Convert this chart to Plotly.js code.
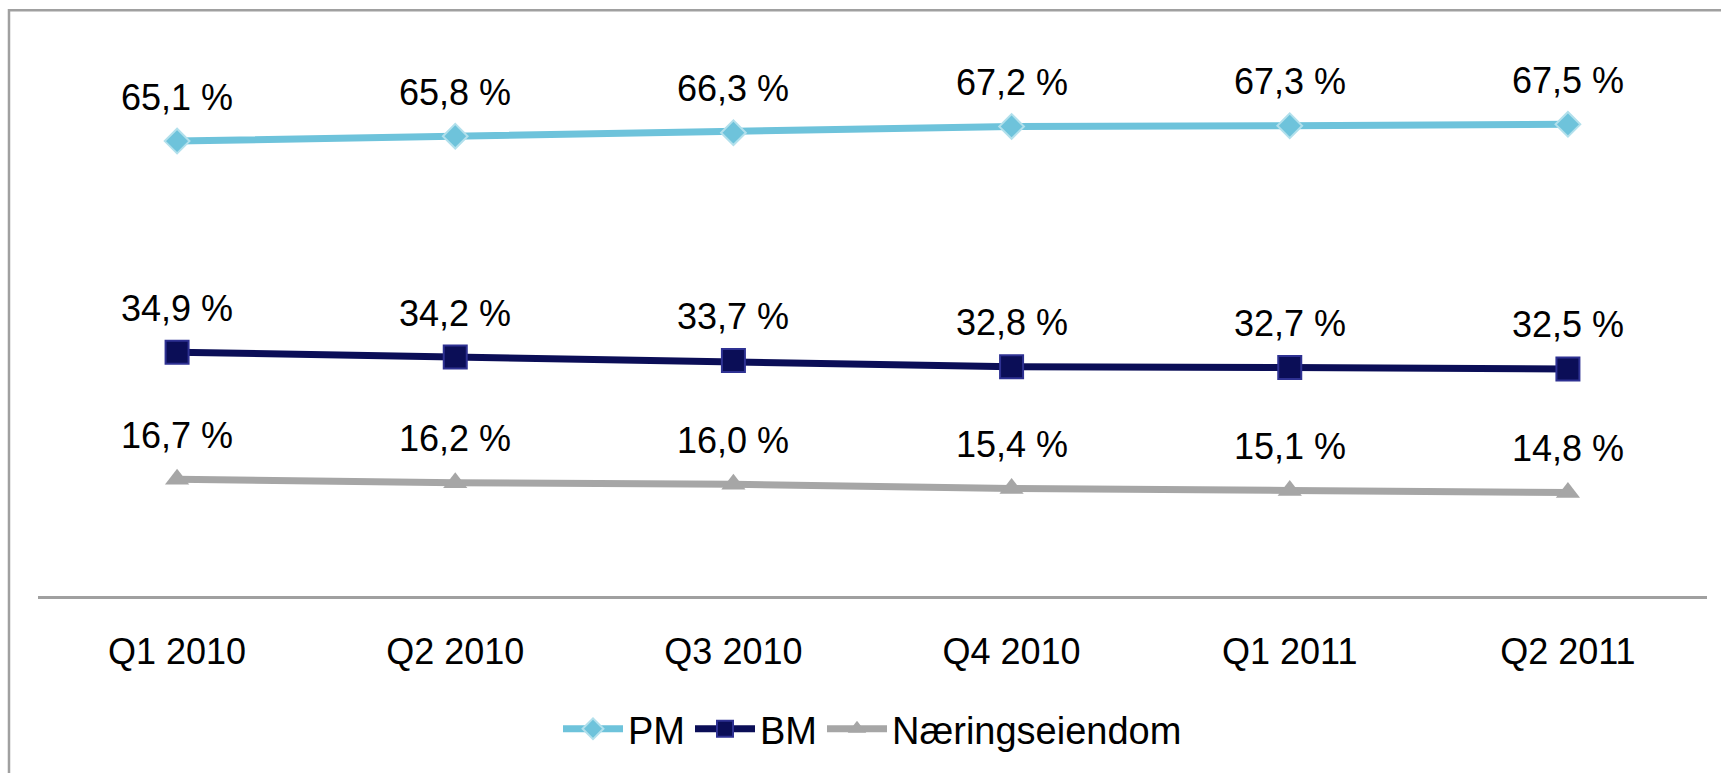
<!DOCTYPE html>
<html>
<head>
<meta charset="utf-8">
<script src="https://cdn.plot.ly/plotly-3.0.1.min.js"></script>
<style>
  html, body { margin: 0; padding: 0; background: #ffffff; }
  #chart { width: 1721px; height: 773px; }
</style>
</head>
<body>
<div id="chart"></div>
<script>
// ---- Data ----
const categories = ["Q1 2010", "Q2 2010", "Q3 2010", "Q4 2010", "Q1 2011", "Q2 2011"];
const pmValues = [65.1, 65.8, 66.3, 67.2, 67.3, 67.5];
const bmValues = [34.9, 34.2, 33.7, 32.8, 32.7, 32.5];
const naeringValues = [16.7, 16.2, 16.0, 15.4, 15.1, 14.8];
const seriesNames = ["PM", "BM", "Næringseiendom"];

function fmt(v) { return v.toFixed(1).replace('.', ',') + ' %'; }

const FONT = '"Liberation Sans", Arial, sans-serif';

const traces = [
  {
    name: seriesNames[0], x: categories, y: pmValues, type: 'scatter', mode: 'lines+markers',
    line: { color: '#6EC3DB', width: 7 },
    marker: { symbol: 'diamond', size: 19, color: '#6EC3DB', line: { color: '#B2E0EC', width: 2 } },
    hoverinfo: 'skip'
  },
  {
    name: seriesNames[1], x: categories, y: bmValues, type: 'scatter', mode: 'lines+markers',
    line: { color: '#0B0E57', width: 7 },
    marker: { symbol: 'square', size: 23, color: '#0B0E57', line: { color: '#2E3192', width: 2 } },
    hoverinfo: 'skip'
  },
  {
    name: seriesNames[2], x: categories, y: naeringValues, type: 'scatter', mode: 'lines+markers',
    line: { color: '#A6A6A6', width: 7 },
    marker: { symbol: 'triangle-up', size: 21, color: '#A6A6A6', line: { color: '#A6A6A6', width: 0 } },
    hoverinfo: 'skip'
  }
];

const annotations = [];
[pmValues, bmValues, naeringValues].forEach(vals => {
  vals.forEach((v, i) => {
    annotations.push({
      x: categories[i], y: v, xref: 'x', yref: 'y',
      text: fmt(v), showarrow: false, yshift: 44,
      font: { family: FONT, size: 36, color: '#000000' }
    });
  });
});

const layout = {
  width: 1721, height: 773,
  margin: { l: 38, r: 14, t: 37, b: 174 },
  paper_bgcolor: '#ffffff', plot_bgcolor: '#ffffff',
  font: { family: FONT, size: 36, color: '#000000' },
  showlegend: true,
  legend: {
    orientation: 'h', x: 0.5, xanchor: 'center', y: -0.238, yanchor: 'middle',
    font: { family: FONT, size: 38, color: '#000000' },
    itemwidth: 60, tracegroupgap: 0, bgcolor: 'rgba(0,0,0,0)'
  },
  xaxis: {
    type: 'category', range: [-0.5, 5.5], fixedrange: true,
    showline: true, linecolor: '#A0A0A0', linewidth: 2.5,
    showgrid: false, zeroline: false, ticks: '',
    ticklabelstandoff: 22,
    tickfont: { family: FONT, size: 36, color: '#000000' }
  },
  yaxis: {
    range: [0, 80], visible: false, showgrid: false, zeroline: false, fixedrange: true
  },
  annotations: annotations,
  shapes: [{
    type: 'rect', xref: 'paper', yref: 'paper',
    x0: -0.01738, x1: 1.2, y0: -0.6, y1: 1.048,
    line: { color: '#A0A0A0', width: 2.5 }, fillcolor: 'rgba(0,0,0,0)', layer: 'below'
  }]
};

Plotly.newPlot('chart', traces, layout, { staticPlot: true, displayModeBar: false });
</script>
</body>
</html>
